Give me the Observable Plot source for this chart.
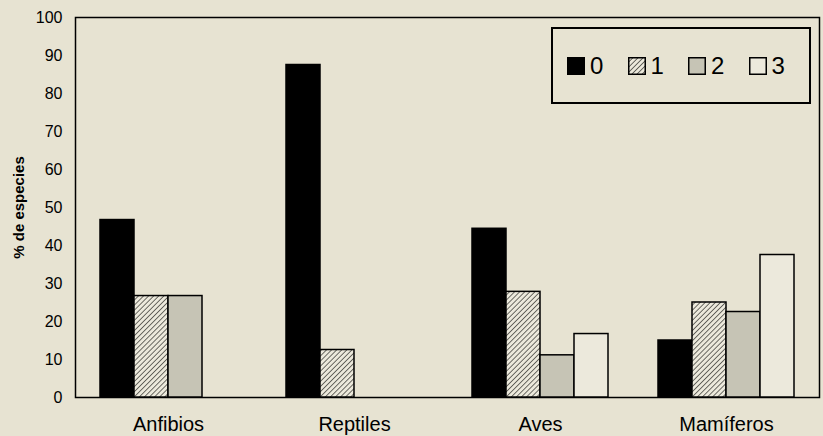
<!DOCTYPE html>
<html>
<head>
<meta charset="utf-8">
<script src="https://cdn.jsdelivr.net/npm/d3@7"></script>
<script src="https://cdn.jsdelivr.net/npm/@observablehq/plot@0.6"></script>
<style>
  html, body { margin: 0; padding: 0; background: #e7e3d2; }
  #wrap { position: relative; width: 823px; height: 436px; font-family: "Liberation Sans", Arial, sans-serif; }
  #legend { position: absolute; left: 551px; top: 27px; width: 256px; height: 73px; border: 2px solid #000; box-sizing: content-box; display: flex; align-items: center; justify-content: flex-start; padding-left: 0; }
  .item { display: flex; align-items: center; font-size: 24px; color: #000; width: 65px; box-sizing: border-box; }
  .item:first-child { margin-left: 14px; }
  .item svg { margin-right: 5px; flex: none; }
</style>
</head>
<body>
<div id="wrap"></div>
<script>
const groups = ["Anfibios", "Reptiles", "Aves", "Mamíferos"];
const series = ["0", "1", "2", "3"];
const anfibios = [46.7, 26.7, 26.7, 0];
const reptiles = [87.5, 12.5, 0, 0];
const aves = [44.4, 27.8, 11.1, 16.7];
const mamiferos = [15, 25, 22.5, 37.5];
const yTicks = [0, 10, 20, 30, 40, 50, 60, 70, 80, 90, 100];
const fills = ["#000000", "url(#hatch)", "#c6c4b5", "#ece9dc"];

const valuesByGroup = [anfibios, reptiles, aves, mamiferos];
const data = [];
groups.forEach((g, i) => series.forEach((s, j) => data.push({group: g, series: s, value: valuesByGroup[i][j]})));

const plot = Plot.plot({
  width: 823,
  height: 436,
  marginLeft: 74,
  marginRight: 3,
  marginTop: 17,
  marginBottom: 39,
  style: {background: "transparent", fontFamily: "Liberation Sans, Arial, sans-serif", color: "#000"},
  fx: {domain: groups, padding: 0},
  x: {domain: series, paddingInner: 0, paddingOuter: 0.71, axis: null},
  y: {domain: [0, 100], ticks: yTicks},
  color: {domain: series, range: fills},
  marks: [
    Plot.frame({facet: "super", stroke: "#000", strokeWidth: 1.5}),
    Plot.barY(data, {fx: "group", x: "series", y: "value", fill: "series", stroke: "#000", strokeWidth: 1.5}),
    Plot.axisY({ticks: yTicks, tickSize: 0, tickPadding: 13, fontSize: 16, label: "% de especies", labelAnchor: "center", labelArrow: "none", labelOffset: 62}),
    Plot.axisFx({anchor: "bottom", tickSize: 0, tickPadding: 19, fontSize: 20, label: null})
  ]
});

const svg = plot.tagName.toLowerCase() === "svg" ? plot : plot.querySelector("svg");
const ns = "http://www.w3.org/2000/svg";
const defs = document.createElementNS(ns, "defs");
defs.innerHTML = '<pattern id="hatch" patternUnits="userSpaceOnUse" width="3.6" height="3.6" patternTransform="rotate(45)"><rect width="3.6" height="3.6" fill="#ece9dc"/><line x1="0" y1="0" x2="0" y2="3.6" stroke="#000" stroke-width="1.1"/></pattern>';
svg.insertBefore(defs, svg.firstChild);
svg.querySelectorAll("text").forEach(t => {
  if (t.textContent === "% de especies") { t.style.fontWeight = "bold"; t.style.fontSize = "15px"; }
});

const wrap = document.getElementById("wrap");
wrap.appendChild(plot);

const legend = document.createElement("div");
legend.id = "legend";
series.forEach((s, i) => {
  const item = document.createElement("div");
  item.className = "item";
  item.innerHTML = `<svg width="18" height="18"><defs><pattern id="lh${i}" patternUnits="userSpaceOnUse" width="3.6" height="3.6" patternTransform="rotate(45)"><rect width="3.6" height="3.6" fill="#ece9dc"/><line x1="0" y1="0" x2="0" y2="3.6" stroke="#000" stroke-width="1.1"/></pattern></defs><rect x="0.75" y="0.75" width="16.5" height="16.5" fill="${fills[i] === "url(#hatch)" ? `url(#lh${i})` : fills[i]}" stroke="#000" stroke-width="1.5"/></svg><span>${s}</span>`;
  legend.appendChild(item);
});
wrap.appendChild(legend);
</script>
</body>
</html>
